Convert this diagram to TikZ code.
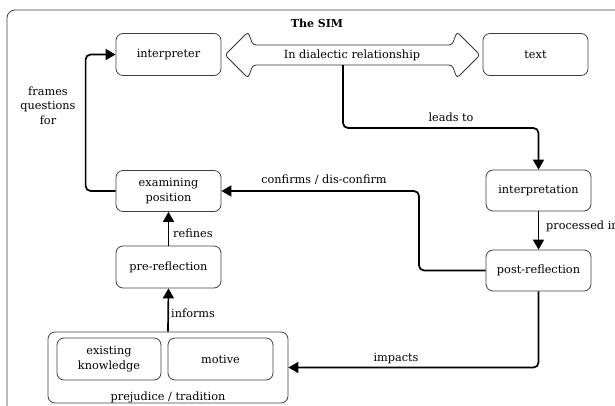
\documentclass[tikz,border=0pt]{standalone}
\usepackage{fontspec}
\setmainfont{DejaVu Serif}
\usetikzlibrary{arrows.meta}
\begin{document}
\begin{tikzpicture}[x=1pt,y=-1pt,
  font=\fontsize{11.3}{14.3}\selectfont,
  box/.style={draw=black!75, line width=0.8pt, rounded corners=7pt,
    minimum width=105pt, minimum height=42pt, align=center, inner sep=2pt},
  conn/.style={line width=1.7pt, rounded corners=5pt,
    -{Triangle[length=10pt,width=11pt]}},
  lbl/.style={inner sep=0pt, align=center}]
\useasboundingbox (0,0) rectangle (615,405);
\clip (0,0) rectangle (615,405);

% outer frame
\draw[draw=black!75, line width=0.8pt, rounded corners=8pt] (7,10) rectangle (660,440);
\node[lbl, font=\fontsize{11}{14}\selectfont\bfseries] (title) at (317,23) {The SIM};

% main boxes
\node[box] (interp) at (168.5,54.5) {interpreter};
\node[box] (text) at (535.5,54.5) {text};
\node[box, minimum height=41pt] (interpretation) at (538.5,190.5) {interpretation};
\node[box, minimum height=41pt] (post) at (538.5,270.5) {post-reflection};
\node[box, minimum height=41pt] (exam) at (168.5,191) {examining\\position};
\node[box] (pre) at (168.5,267) {pre-reflection};

% prejudice / tradition group
\node[box, minimum width=240pt, minimum height=71pt] (prej) at (168,367.5) {};
\node[lbl] (prejlbl) at (168,397) {prejudice / tradition};
\node[box, minimum width=104pt] (exist) at (109,359) {existing\\knowledge};
\node[box] (motive) at (220.5,359) {motive};

% double-headed block arrow between interpreter and text
\draw[draw=black!80, line width=0.8pt, rounded corners=3pt]
  (225,55) -- (248,32) -- (253,45) -- (452,45) -- (457,32) -- (480,55)
  -- (457,78) -- (452,65) -- (253,65) -- (248,78) -- cycle;
\node[lbl] (dialectic) at (352,55.5) {In dialectic relationship};
\coordinate (dbot) at (343,65);
\coordinate (lbend) at (343,128);
\coordinate (cbend) at (419,230);

% connectors
\draw[conn] (dbot) -- (lbend) -| (interpretation.north);
\draw[conn] (interpretation.south) -- (post.north);
\draw[conn] (post.west) -| (cbend) |- (exam.east);
\draw[conn] (post.south) |- (prej.east);
\draw[conn] (exam.west) -- ++(-30,0) |- (interp.west);
\draw[conn] (pre.north) -- (exam.south);
\draw[conn] (prej.north) -- (pre.south);

% connector labels
\node[lbl] (lleads) at (451,117) {leads to};
\node[lbl, anchor=west] (lproc) at (546,226) {processed in};
\node[lbl] (lconf) at (324,180) {confirms / dis-confirm};
\node[lbl] (limp) at (396,359) {impacts};
\node[lbl] (lframe) at (48,105.5) {frames\\questions\\for};
\node[lbl, anchor=west] (lref) at (173,233) {refines};
\node[lbl, anchor=west] (linf) at (171,313) {informs};
\end{tikzpicture}
\end{document}
